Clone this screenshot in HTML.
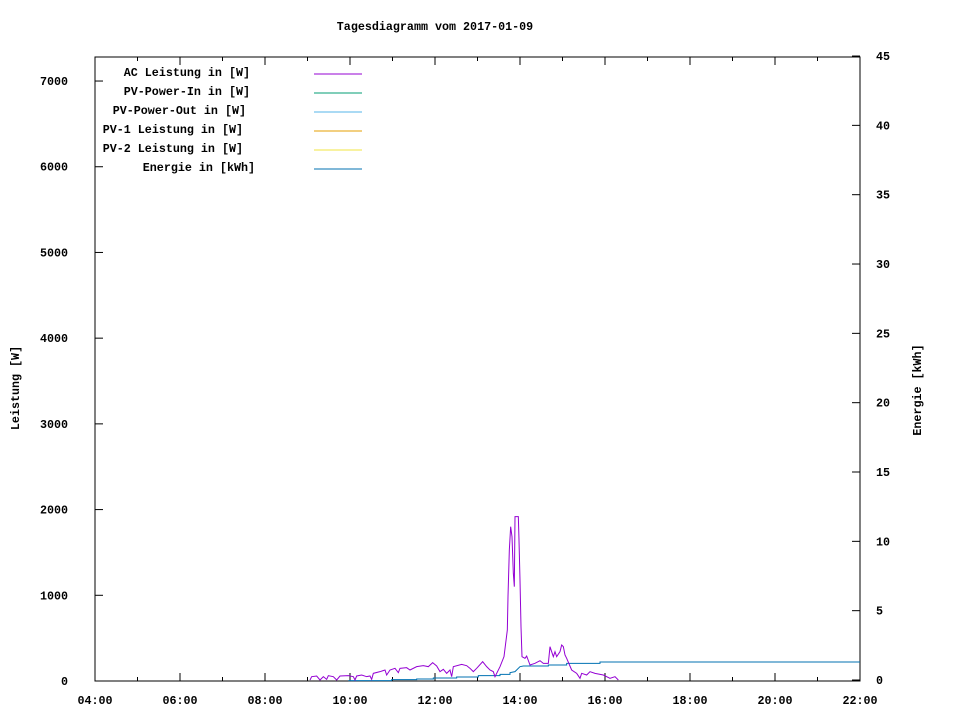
<!DOCTYPE html>
<html><head><meta charset="utf-8"><style>
body{margin:0;background:#fff}
svg text{font-family:"Liberation Mono","DejaVu Sans Mono",monospace;font-weight:bold;font-size:11.7px;fill:#000}
</style></head><body>
<svg width="960" height="720" xmlns="http://www.w3.org/2000/svg">
<rect width="960" height="720" fill="#fff"/>
<text x="435" y="30" text-anchor="middle">Tagesdiagramm vom 2017-01-09</text>
<rect x="95" y="57" width="765" height="624" fill="none" stroke="#000" stroke-width="1"/>
<g stroke="#000" stroke-width="1" id="ticks"></g>
<g id="labels"></g>
<text x="19" y="388" text-anchor="middle" transform="rotate(-90 19 388)">Leistung [W]</text>
<text x="921" y="390" text-anchor="middle" transform="rotate(-90 921 390)">Energie [kWh]</text>
<g text-anchor="end">
<text x="250" y="76">AC Leistung in [W]</text>
<text x="250" y="95">PV-Power-In in [W]</text>
<text x="246" y="114">PV-Power-Out in [W]</text>
<text x="243" y="133">PV-1 Leistung in [W]</text>
<text x="243" y="152">PV-2 Leistung in [W]</text>
<text x="255" y="171">Energie in [kWh]</text>
</g>
<g stroke-width="1">
<line x1="314" y1="74" x2="362" y2="74" stroke="#9400d3"/>
<line x1="314" y1="93" x2="362" y2="93" stroke="#009e73"/>
<line x1="314" y1="112" x2="362" y2="112" stroke="#56b4e9"/>
<line x1="314" y1="131" x2="362" y2="131" stroke="#e69f00"/>
<line x1="314" y1="150" x2="362" y2="150" stroke="#f0e442"/>
<line x1="314" y1="169" x2="362" y2="169" stroke="#0072b2"/>
</g>
<g transform="translate(300,500) scale(0.33333)" fill="none">
<polyline vector-effect="non-scaling-stroke" stroke="#0072b2" stroke-width="1" points="145,542 275,542 275,539 350,539 350,537 400,537 400,534 470,534 470,531 535,531 535,527 600,527 600,523 630,523 630,518 645,515 660,500 670,498 745,498 745,495 800,495 800,490 900,490 900,486 1680,486"/>
<polyline vector-effect="non-scaling-stroke" stroke="#9400d3" stroke-width="1" points="30,540 35,530 50,528 60,540 70,530 80,538 85,527 100,530 110,540 120,528 145,527 160,530 165,540 170,528 185,525 200,530 210,528 215,538 220,520 240,515 255,510 260,525 270,510 285,505 295,518 300,505 320,503 330,510 350,500 370,497 385,500 398,488 410,498 420,515 430,508 440,520 450,510 455,530 460,500 485,493 500,497 510,505 520,515 530,505 548,485 560,500 570,510 580,515 585,530 600,500 612,470 622,390 624,290 628,150 632,80 636,110 640,220 643,260 645,50 655,50 657,120 660,240 663,380 666,470 675,475 680,468 690,495 705,490 720,482 730,490 745,490 750,440 755,455 760,470 765,455 770,470 780,455 785,435 790,440 795,465 800,475 815,510 830,520 840,535 845,520 860,525 870,515 885,520 910,525 930,535 945,530 955,540"/>
</g>
<script>
var t=document.getElementById('ticks'),l=document.getElementById('labels'),ns='http://www.w3.org/2000/svg';
function ln(a,b,c,d){var e=document.createElementNS(ns,'line');e.setAttribute('x1',a);e.setAttribute('y1',b);e.setAttribute('x2',c);e.setAttribute('y2',d);t.appendChild(e);}
function tx(x,y,s,a){var e=document.createElementNS(ns,'text');e.setAttribute('x',x);e.setAttribute('y',y);e.setAttribute('text-anchor',a);e.textContent=s;l.appendChild(e);}
for(var k=0;k<=18;k++){var x=95+k*42.5;var len=(k%2==0)?8:4;ln(x,681,x,681-len);ln(x,57,x,57+len);
 if(k%2==0){var h=4+k;tx(x,704,(h<10?'0':'')+h+':00','middle');}}
for(var k=0;k<=7;k++){var y=681-k*85.71;ln(95,y,103,y);tx(68,y+4,String(k*1000),'end');}
for(var k=0;k<=9;k++){var y=680-k*69.33;ln(860,y,852,y);tx(876,y+4,String(k*5),'start');}
</script>
</svg>
</body></html>
